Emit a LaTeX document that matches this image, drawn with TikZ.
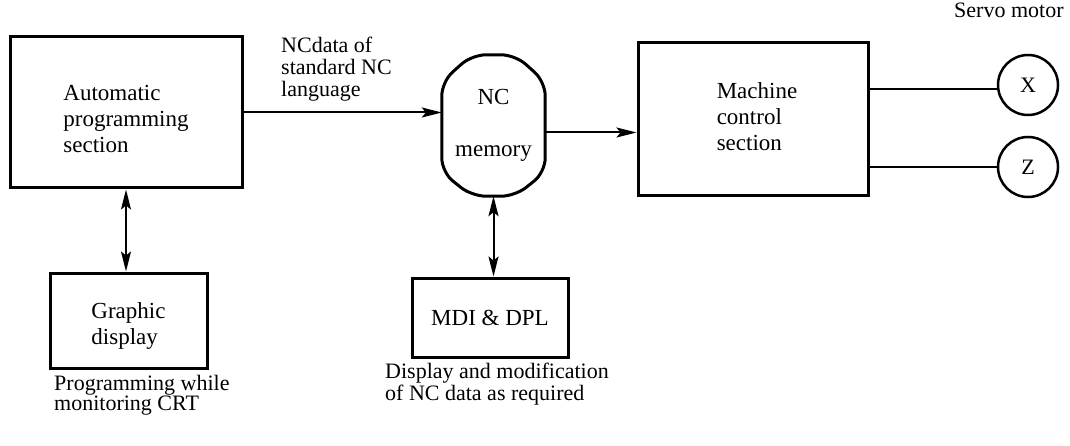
\documentclass[tikz,border=0pt]{standalone}
\usepackage{fontspec}
\setmainfont{Liberation Serif}
\newfontfamily\myserif{Liberation Serif}
\usetikzlibrary{arrows.meta,calc}
\newcommand{\lines}[2][l]{\begin{tabular}{@{}#1@{}}#2\end{tabular}}
\begin{document}
\begin{tikzpicture}[x=1pt,y=-1pt,
  txt/.style={font=\myserif\fontsize{22}{24}\selectfont, inner sep=0pt},
  boxtxt/.style={inner sep=0pt, font=\myserif\fontsize{23}{26}\selectfont},
  box/.style={draw, line width=3pt, inner sep=0pt, font=\myserif\fontsize{23}{26}\selectfont},
  conn/.style={line width=2pt},
  arr/.style={conn, -{Stealth[length=20pt,width=10pt,inset=4pt]}},
  darr/.style={conn, {Stealth[length=20pt,width=10pt,inset=4pt]}-{Stealth[length=20pt,width=10pt,inset=4pt]}},
  motor/.style={draw, circle, line width=2.5pt, minimum size=60pt, inner sep=0pt, font=\myserif\fontsize{22}{24}\selectfont}
]
\useasboundingbox (0,0) rectangle (1070,446);

\node[box, minimum width=232pt, minimum height=151pt] (auto) at (126,112.5) {};
\node[boxtxt] (autotxt) at ([yshift=-9pt]auto.center) {\lines{Automatic\\programming\\section}};
\node[box, minimum width=157pt, minimum height=95pt] (graph) at (128.5,320.5) {};
\node[boxtxt] (graphtxt) at ([yshift=-6pt]graph.center) {\lines{Graphic\\display}};
\node[box, minimum width=156pt, minimum height=79pt] (mdi) at (490,317.5) {MDI \& DPL};
\node[box, minimum width=230pt, minimum height=153pt] (mach) at (753,119) {\hspace*{8pt}\lines{Machine\\control\\section}};

% NC memory
\node[minimum width=103pt, minimum height=141pt, inner sep=0pt, font=\myserif\fontsize{23}{24}\selectfont] (mem) at (493.5,125.5) {\lines[c]{NC\\[28pt]memory}};
\draw[line width=3pt, rounded corners=14pt]
  (mem.west) -- ($(mem.north west)+(0,27)$) -- ($(mem.north west)+(30,0)$) -- ($(mem.north east)+(-30,0)$) -- ($(mem.north east)+(0,27)$)
  -- ($(mem.south east)+(0,-24)$) -- ($(mem.south east)+(-30,0)$) -- ($(mem.south west)+(30,0)$) -- ($(mem.south west)+(0,-24)$) -- cycle;

\node[motor] (X) at (1028,85) {X};
\node[motor] (Z) at (1028,167) {Z};

% connectors
\draw[arr] (auto.east) -- (auto.east -| mem.west);
\draw[arr] ([yshift=-7pt]mem.east) -- ([yshift=-7pt]mem.east -| mach.west);
\draw[darr] (auto.south) -- (auto.south |- graph.north);
\draw[darr] (mem.south) -- (mem.south |- mdi.north);
\draw[conn] ([yshift=-4pt]X.west -| mach.east) -- ([yshift=-4pt]X.west);
\draw[conn] (Z.west -| mach.east) -- (Z.west);

% labels
\node[txt, anchor=north west, font=\myserif\fontsize{22}{22}\selectfont] (lbl) at (281,37) {\lines{NCdata of\\standard NC\\language}};
\node[txt, anchor=north west] (servo) at (954,3) {Servo motor};
\node[txt, anchor=north west, font=\myserif\fontsize{22}{19}\selectfont] (prog) at (54,375) {\lines{Programming while\\monitoring CRT}};
\node[txt, anchor=north west, font=\myserif\fontsize{22}{21}\selectfont] (disp) at (385,363) {\lines{Display and modification\\of NC data as required}};
\end{tikzpicture}
\end{document}
